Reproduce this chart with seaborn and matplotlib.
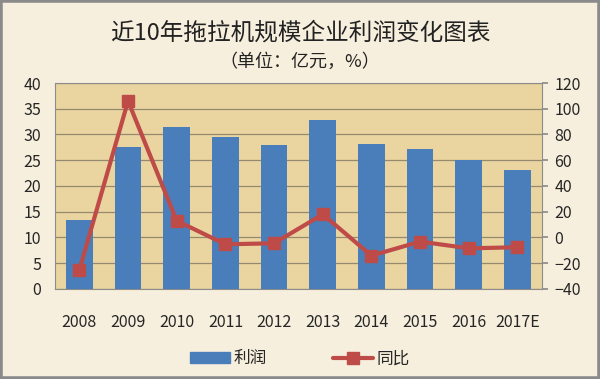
import numpy as np
import matplotlib
matplotlib.use("Agg")
import matplotlib.pyplot as plt
import matplotlib.patches as mpatches
from matplotlib.lines import Line2D
import seaborn as sns

# data
years = ["2008", "2009", "2010", "2011", "2012", "2013", "2014", "2015", "2016", "2017E"]
profit = [13.4, 27.6, 31.4, 29.6, 28.0, 32.8, 28.2, 27.2, 25.0, 23.1]   # 亿元
yoy = [-25.2, 106.0, 13.0, -5.3, -4.5, 18.0, -14.1, -3.2, -8.4, -7.6]    # %

BAR_C = "#4A7EBB"
LINE_C = "#BE4B48"
PLOT_BG = "#EAD49F"
FIG_BG = "#F7EFDD"

sns.set_theme(style="white")
plt.rcParams["font.family"] = ["Noto Sans CJK SC", "DejaVu Sans"]

fig = plt.figure(figsize=(6, 3.79), dpi=100, facecolor=FIG_BG)
ax = fig.add_axes([0.0917, 0.2375, 0.8113, 0.5435])
ax.set_facecolor(PLOT_BG)

sns.barplot(x=years, y=profit, ax=ax, color=BAR_C, width=0.55,
            saturation=1, edgecolor="none", zorder=3)
ax.set_ylim(0, 40)
ax.set_yticks(np.arange(0, 41, 5))
ax.set_xlim(-0.5, len(years) - 0.5)
ax.grid(axis="y", color="#958A70", linewidth=0.9, zorder=0)
ax.set_axisbelow(True)
ax.set_xlabel("")
ax.set_ylabel("")
ax.tick_params(axis="y", labelsize=11.5, pad=10, length=0)
ax.tick_params(axis="x", labelsize=11.5, pad=18, length=0)
for s in ax.spines.values():
    s.set_color("#8C8C8C")
    s.set_linewidth(0.8)

ax2 = ax.twinx()
ax2.plot(np.arange(len(years)), yoy, color=LINE_C, linewidth=3,
         marker="s", markersize=8, markerfacecolor=LINE_C,
         markeredgecolor=LINE_C, zorder=5)
ax2.set_ylim(-40, 120)
ax2.set_yticks(np.arange(-40, 121, 20))
ax2.tick_params(axis="y", labelsize=11.5, pad=5, length=4, color="#8C8C8C")
ax2.grid(False)
for s in ax2.spines.values():
    s.set_visible(False)

fig.text(0.5, 0.913, "近10年拖拉机规模企业利润变化图表", ha="center", va="center",
         fontsize=17, color="#222222")
fig.text(0.5, 0.836, "（单位：亿元，%）", ha="center", va="center",
         fontsize=13, color="#222222")

handles = [mpatches.Patch(color=BAR_C, label="利润"),
           Line2D([0], [0], color=LINE_C, linewidth=3, marker="s",
                  markersize=8, label="同比")]
fig.legend(handles=handles, loc="center", bbox_to_anchor=(0.5, 0.053),
           ncol=2, frameon=False, fontsize=12, columnspacing=4,
           handlelength=2.4, handletextpad=0.2)

fig.patches.append(mpatches.Rectangle((0, 0), 1, 1, transform=fig.transFigure,
                                      fill=False, edgecolor="#8A8A8A",
                                      linewidth=4))

fig.savefig("out.png", dpi=100, facecolor=FIG_BG)
